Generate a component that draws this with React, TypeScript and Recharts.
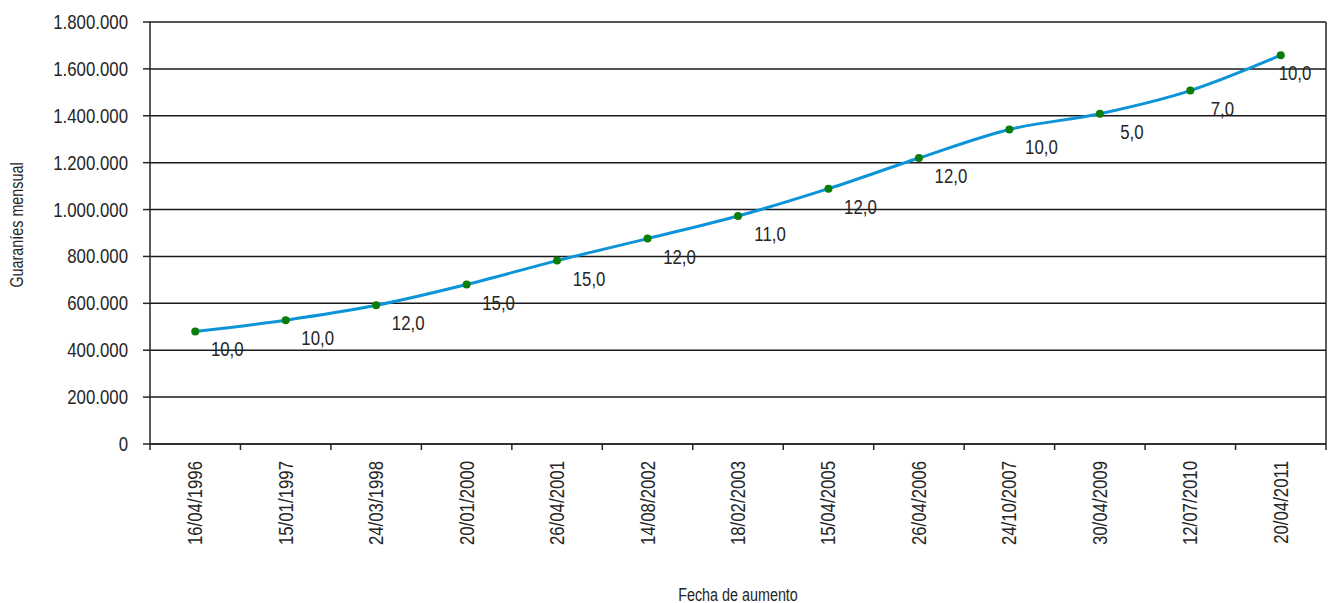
import React from "react"
import {
  LineChart,
  Line,
  XAxis,
  YAxis,
  CartesianGrid,
  LabelList,
  Label,
} from "recharts"

const fechas = [
  "16/04/1996",
  "15/01/1997",
  "24/03/1998",
  "20/01/2000",
  "26/04/2001",
  "14/08/2002",
  "18/02/2003",
  "15/04/2005",
  "26/04/2006",
  "24/10/2007",
  "30/04/2009",
  "12/07/2010",
  "20/04/2011",
]

const salario = [
  480068, 528075, 591444, 680157, 782190, 876052, 972413, 1089104, 1219795,
  1341775, 1408864, 1507484, 1658232,
]

const aumento = [
  "10,0", "10,0", "12,0", "15,0", "15,0", "12,0", "11,0", "12,0", "12,0",
  "10,0", "5,0", "7,0", "10,0",
]

const yTicks = [0, 200000, 400000, 600000, 800000, 1000000, 1200000, 1400000, 1600000, 1800000]

const data = fechas.map((f, i) => ({ fecha: f, valor: salario[i], pct: aumento[i] }))

// no Arial Narrow installed: squeeze Liberation Sans horizontally instead
const FONT = "'Liberation Sans', Arial, sans-serif"
const NARROW = 0.82
const FS = 20.5
const INK = "#262626"
const W = 1329
const H = 603
const M = { top: 22, right: 2, left: 0, bottom: 0 }
const Y_W = 150
const BAND = (W - M.left - M.right - Y_W - 1) / fechas.length

const fmt = (v: number) => String(v).replace(/\B(?=(\d{3})+(?!\d))/g, ".")

function XTick(props: any) {
  const { x, y, payload, index } = props
  const left = x - BAND / 2
  const tx = x + 7
  const ty = y + 17
  return (
    <g>
      <line x1={left} y1={y} x2={left} y2={y + 6} stroke={INK} strokeWidth={1.5} />
      {index === fechas.length - 1 && (
        <line x1={x + BAND / 2} y1={y} x2={x + BAND / 2} y2={y + 6} stroke={INK} strokeWidth={1.5} />
      )}
      <text
        transform={`translate(${tx}, ${ty}) rotate(-90) scale(${NARROW}, 1)`}
        textAnchor="end"
        fill={INK}
        fontSize={FS}
        fontFamily={FONT}
      >
        {payload.value}
      </text>
    </g>
  )
}

function YTick(props: any) {
  const { x, y, payload } = props
  return (
    <text
      transform={`translate(${x}, ${y + 7}) scale(${NARROW}, 1)`}
      textAnchor="end"
      fill={INK}
      fontSize={FS}
      fontFamily={FONT}
    >
      {fmt(payload.value)}
    </text>
  )
}

function PctLabel(props: any) {
  const { x, y, value } = props
  // keep the last label inside the frame
  const cx = Math.min(x + 32, W - 34)
  return (
    <text
      transform={`translate(${cx}, ${y + 25}) scale(${NARROW}, 1)`}
      textAnchor="middle"
      fill={INK}
      fontSize={FS}
      fontFamily={FONT}
    >
      {value}
    </text>
  )
}

function XTitle(props: any) {
  const { viewBox } = props
  const cx = viewBox.x + viewBox.width / 2
  const by = viewBox.y + viewBox.height - 2
  return (
    <text
      transform={`translate(${cx}, ${by}) scale(${NARROW}, 1)`}
      textAnchor="middle"
      fill={INK}
      fontSize={17.5}
      fontFamily={FONT}
    >
      Fecha de aumento
    </text>
  )
}

function YTitle(props: any) {
  const { viewBox } = props
  const cx = viewBox.x + 23
  const cy = viewBox.y + viewBox.height / 2 - 8
  return (
    <text
      transform={`translate(${cx}, ${cy}) rotate(-90) scale(${NARROW}, 1)`}
      textAnchor="middle"
      fill={INK}
      fontSize={17.5}
      fontFamily={FONT}
    >
      Guaraníes mensual
    </text>
  )
}

export default function App() {
  return (
    <div style={{ position: "absolute", left: 0, top: 0, width: W, height: H, background: "#fff" }}>
      <LineChart width={W} height={H} data={data} margin={M}>
        <CartesianGrid vertical={false} stroke="#1a1a1a" strokeWidth={1.5} />
        <XAxis
          dataKey="fecha"
          height={159}
          interval={0}
          padding={{ left: BAND / 2, right: BAND / 2 }}
          tickLine={false}
          tickSize={0}
          tickMargin={0}
          tick={<XTick />}
          axisLine={{ stroke: INK, strokeWidth: 1.5 }}
        >
          <Label content={<XTitle />} />
        </XAxis>
        <YAxis
          width={Y_W}
          domain={[0, 1800000]}
          ticks={yTicks}
          interval={0}
          tickSize={7}
          tickMargin={15}
          tick={<YTick />}
          tickLine={{ stroke: INK, strokeWidth: 1.5 }}
          axisLine={{ stroke: INK, strokeWidth: 1.5 }}
        >
          <Label content={<YTitle />} />
        </YAxis>
        <YAxis
          yAxisId="r"
          orientation="right"
          width={1}
          domain={[0, 1800000]}
          tick={false}
          tickLine={false}
          axisLine={{ stroke: INK, strokeWidth: 1.5 }}
        />
        <Line
          type="monotone"
          dataKey="valor"
          stroke="#0b94d8"
          strokeWidth={3}
          dot={{ r: 4, fill: "#0a7d0a", stroke: "none" }}
          activeDot={false}
          isAnimationActive={false}
        >
          <LabelList dataKey="pct" content={<PctLabel />} />
        </Line>
      </LineChart>
    </div>
  )
}
